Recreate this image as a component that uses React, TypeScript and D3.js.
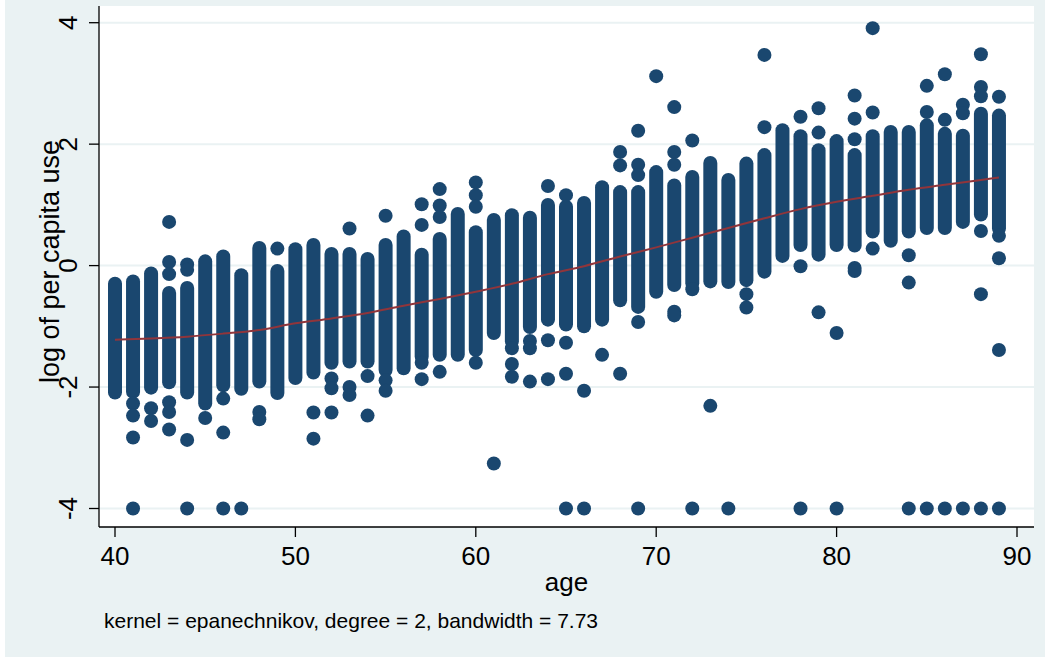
import React from "react";
import * as d3 from "d3";

// ---- data ----
const ages = d3.range(40, 90); // 40..89 (category list)
const colHi = [
  -0.30, -0.26, -0.13, -0.45, -0.37, 0.07, 0.15, -0.16, 0.29, -0.09,
  0.27, 0.34, 0.19, 0.19, 0.11, 0.34, 0.48, 0.18, 0.44, 0.85,
  0.55, 0.75, 0.83, 0.79, 1.00, 0.97, 1.03, 1.29, 1.21, 1.21,
  1.54, 1.32, 1.46, 1.69, 1.41, 1.68, 1.82, 2.23, 2.13, 1.90,
  2.05, 1.82, 2.13, 2.20, 2.20, 2.31, 2.17, 2.14, 2.50, 2.47,
];
const colLo = [
  -2.09, -2.08, -2.01, -1.92, -2.09, -2.27, -1.97, -2.03, -1.91, -2.10,
  -1.85, -1.76, -1.60, -1.58, -1.58, -1.72, -1.69, -1.50, -1.47, -1.47,
  -1.39, -1.11, -1.25, -1.01, -0.89, -0.97, -1.00, -0.89, -0.57, -0.68,
  -0.43, -0.32, -0.29, -0.26, -0.27, -0.24, -0.10, 0.16, 0.34, 0.18,
  0.34, 0.33, 0.56, 0.41, 0.56, 0.62, 0.62, 0.72, 0.84, 0.61,
];
const outlierAges = [
  41, 41, 41, 41,
  42, 42,
  43, 43, 43, 43, 43, 43,
  44, 44, 44, 44,
  45,
  46, 46, 46,
  47,
  48, 48,
  49,
  51, 51,
  52, 52, 52,
  53, 53, 53,
  54, 54,
  55, 55, 55,
  57, 57, 57, 57,
  58, 58, 58, 58,
  60, 60, 60, 60,
  61,
  62, 62, 62,
  63, 63, 63,
  64, 64, 64,
  65, 65, 65, 65,
  66, 66,
  67,
  68, 68, 68,
  69, 69, 69, 69, 69,
  70,
  71, 71, 71, 71, 71,
  72, 72, 72,
  73,
  74,
  75, 75,
  76, 76,
  78, 78, 78,
  79, 79, 79,
  80, 80,
  81, 81, 81, 81, 81,
  82, 82, 82,
  84, 84, 84,
  85, 85, 85,
  86, 86, 86,
  87, 87, 87,
  88, 88, 88, 88, 88, 88,
  89, 89, 89, 89, 89,
];
const outlierVals = [
  -2.27, -2.47, -2.83, -4,
  -2.35, -2.56,
  0.72, 0.06, -0.14, -2.25, -2.41, -2.70,
  0.02, -0.07, -2.87, -4,
  -2.51,
  -2.19, -2.75, -4,
  -4,
  -2.41, -2.53,
  0.28,
  -2.42, -2.85,
  -1.86, -2.02, -2.42,
  0.61, -2.00, -2.13,
  -1.82, -2.47,
  0.82, -1.89, -2.06,
  1.01, 0.67, -1.60, -1.87,
  1.26, 0.99, 0.80, -1.75,
  1.37, 1.16, 0.97, -1.60,
  -3.26,
  -1.36, -1.62, -1.83,
  -1.24, -1.36, -1.91,
  1.31, -1.23, -1.87,
  1.16, -1.27, -1.78, -4,
  -2.06, -4,
  -1.47,
  1.87, 1.65, -1.78,
  2.22, 1.66, 1.49, -0.93, -4,
  3.12,
  2.61, 1.87, 1.66, -0.76, -0.82,
  2.06, -0.39, -4,
  -2.31,
  -4,
  -0.47, -0.69,
  3.47, 2.28,
  2.45, -0.01, -4,
  2.59, 2.19, -0.77,
  -1.11, -4,
  2.80, 2.42, 2.08, -0.04, -0.09,
  3.91, 2.52, 0.28,
  0.17, -0.28, -4,
  2.96, 2.53, -4,
  3.15, 2.40, -4,
  2.65, 2.51, -4,
  3.48, 2.94, 2.79, 0.57, -0.47, -4,
  2.78, 0.49, 0.12, -1.39, -4,
];
const smoothAges = [40, 42, 44, 46, 48, 50, 52, 54, 56, 58, 60, 62, 64, 66, 68, 70, 72, 74, 76, 78, 80, 82, 84, 86, 88, 89];
const smoothVals = [-1.22, -1.20, -1.17, -1.12, -1.06, -0.95, -0.87, -0.78, -0.66, -0.55, -0.43, -0.30, -0.14, -0.01, 0.15, 0.30, 0.46, 0.62, 0.78, 0.93, 1.05, 1.15, 1.25, 1.33, 1.41, 1.45];
const xTicks = [40, 50, 60, 70, 80, 90];
const yTicks = [-4, -2, 0, 2, 4];
const xTitle = "age";
const yTitle = "log of per capita use";
const note = "kernel = epanechnikov, degree = 2, bandwidth = 7.73";

const W = 1045;
const H = 658;
const NAVY = "#1a476f";
const MAROON = "#90353b";
const BG = "#eaf2f3";
const FONT = "'Liberation Sans', Arial, Helvetica, sans-serif";

export default function App() {
  const plot = { left: 99, right: 1034, top: 6, bottom: 527 };
  const x = d3.scaleLinear().domain([40, 90]).range([115, 1017]);
  const y = d3.scaleLinear().domain([-4, 4]).range([508.5, 22.7]);
  const r = 7;
  const line = d3
    .line<number>()
    .x((_, i) => x(smoothAges[i]))
    .y((v) => y(v))
    .curve(d3.curveMonotoneX);

  return (
    <svg
      width={W}
      height={H}
      style={{ position: "absolute", left: 0, top: 0, display: "block" }}
      fontFamily={FONT}
    >
      <rect x={0} y={0} width={W} height={H} fill="#ffffff" />
      <rect x={5} y={0} width={W - 5} height={657} fill={BG} />
      <rect
        x={plot.left}
        y={plot.top}
        width={plot.right - plot.left}
        height={plot.bottom - plot.top}
        fill="#ffffff"
      />
      {/* gridlines */}
      {yTicks.map((t) => (
        <line
          key={"g" + t}
          x1={plot.left}
          x2={plot.right}
          y1={y(t)}
          y2={y(t)}
          stroke={BG}
          strokeWidth={2}
        />
      ))}
      {/* dense columns of observations */}
      {ages.map((a, i) => (
        <line
          key={"c" + a}
          x1={x(a)}
          x2={x(a)}
          y1={y(colLo[i])}
          y2={y(colHi[i])}
          stroke={NAVY}
          strokeWidth={2 * r}
          strokeLinecap="round"
        />
      ))}
      {/* isolated observations */}
      {outlierAges.map((a, i) => (
        <circle key={"o" + i} cx={x(a)} cy={y(outlierVals[i])} r={r} fill={NAVY} />
      ))}
      {/* local polynomial smooth */}
      <path d={line(smoothVals) || ""} fill="none" stroke={MAROON} strokeWidth={2} />
      {/* axes */}
      <line x1={plot.left} x2={plot.left} y1={plot.top} y2={plot.bottom} stroke="#000" strokeWidth={1.3} />
      <line x1={plot.left} x2={plot.right} y1={plot.bottom} y2={plot.bottom} stroke="#000" strokeWidth={1.3} />
      {yTicks.map((t) => (
        <g key={"yt" + t}>
          <line x1={plot.left - 10} x2={plot.left} y1={y(t)} y2={y(t)} stroke="#000" strokeWidth={1.3} />
          <text
            transform={`translate(77,${y(t)}) rotate(-90)`}
            textAnchor="middle"
            fontSize={26}
            fill="#000"
          >
            {t}
          </text>
        </g>
      ))}
      {xTicks.map((t) => (
        <g key={"xt" + t}>
          <line x1={x(t)} x2={x(t)} y1={plot.bottom} y2={plot.bottom + 10} stroke="#000" strokeWidth={1.3} />
          <text x={x(t)} y={565} textAnchor="middle" fontSize={26} fill="#000">
            {t}
          </text>
        </g>
      ))}
      <text x={(plot.left + plot.right) / 2} y={591} textAnchor="middle" fontSize={26} fill="#000">
        {xTitle}
      </text>
      <text
        transform={`translate(59,${(plot.top + plot.bottom) / 2 - 5}) rotate(-90)`}
        textAnchor="middle"
        fontSize={27}
        fill="#000"
      >
        {yTitle}
      </text>
      <text x={104} y={628} fontSize={21} fill="#000">
        {note}
      </text>
    </svg>
  );
}
